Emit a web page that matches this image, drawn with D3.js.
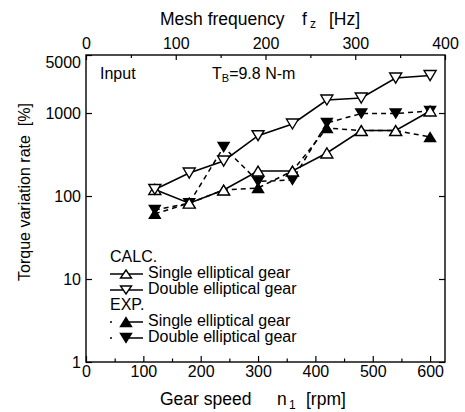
<!DOCTYPE html>
<html>
<head>
<meta charset="utf-8">
<script src="https://cdn.jsdelivr.net/npm/d3@7"></script>
<style>
  body { margin: 0; background: #fff; }
  svg text { font-family: "Liberation Sans", Arial, sans-serif; fill: #000; }
</style>
</head>
<body>
<div id="chart"></div>
<script>
// gear speed n1 [rpm] for each measured point
const speeds = [120, 180, 240, 300, 360, 420, 480, 540, 600];

// torque variation rate [%]
const calcSingle = [120, 82, 118, 200, 200, 330, 615, 615, 1057];
const calcDouble = [120, 189, 264, 533, 737, 1435, 1516, 2640, 2830];
const expSingle = [61, 82, 118, 125, 200, 659, 615, 615, 514];
const expDouble = [68, 82, 389, 150, 156, 758, 986, 986, 1057];

// tick labels
const rpmTicks = d3.range(0, 601, 50);
const hzTicks = d3.range(0, 401, 50);
const rateTicks = [1, 10, 100, 1000, 5000];

const legendRows = [
    { label: "Single elliptical gear", dashed: false, up: true, filled: false },
    { label: "Double elliptical gear", dashed: false, up: false, filled: false },
    { label: "Single elliptical gear", dashed: true, up: true, filled: true },
    { label: "Double elliptical gear", dashed: true, up: false, filled: true }
];

const margin = { top: 55, right: 20, bottom: 50, left: 86 };
const width = 465 - margin.left - margin.right;
const height = 412 - margin.top - margin.bottom;

const svg = d3.select("#chart").append("svg")
    .attr("width", 465)
    .attr("height", 412)
    .append("g")
    .attr("transform", `translate(${margin.left},${margin.top})`);

const x = d3.scaleLinear().domain([0, 626]).range([0, width]);
const xTop = d3.scaleLinear().domain([0, 400]).range([0, width]);
const y = d3.scaleLog().domain([1, 5000]).range([height, 0]);

const line = d3.line()
    .x(d => x(d[0]))
    .y(d => y(d[1]));

// triangle markers, w wide and h tall, centred on the point
function tri(up, w, h) {
    const a = w / 2, b = h / 2;
    return up ? `M0,${-b}L${a},${b}L${-a},${b}Z` : `M0,${b}L${a},${-b}L${-a},${-b}Z`;
}

// axes (ticks point inward)
const gx = svg.append("g")
    .attr("transform", `translate(0,${height})`)
    .call(d3.axisBottom(x).tickValues(rpmTicks).tickSize(-6).tickPadding(4)
        .tickFormat(d => d % 100 === 0 ? d : ""));
gx.selectAll(".tick").filter(d => d % 100 !== 0).select("line").attr("y2", -3.5);

const gxTop = svg.append("g")
    .call(d3.axisTop(xTop).tickValues(hzTicks).tickSize(-5).tickPadding(6)
        .tickFormat(d => d % 100 === 0 ? d : ""));
gxTop.selectAll(".tick").filter(d => d % 100 !== 0).select("line").attr("y2", 3);

const gy = svg.append("g")
    .call(d3.axisLeft(y).tickValues(rateTicks).tickSize(-6).tickPadding(5)
        .tickFormat(d3.format("d")));
gy.selectAll(".tick").filter(d => d === 5000).select("text").attr("transform", "translate(0,7)");

const gyRight = svg.append("g")
    .attr("transform", `translate(${width},0)`)
    .call(d3.axisRight(y).tickValues([1, 10, 100, 1000]).tickSize(-6).tickFormat(""));

[gx, gxTop, gy, gyRight].forEach(g => {
    g.select(".domain").remove();
    g.selectAll("line").attr("stroke", "#000").attr("stroke-width", 1.2);
    g.selectAll("text").style("font-size", "16px").attr("fill", "#000");
});

svg.append("rect")
    .attr("width", width)
    .attr("height", height)
    .attr("fill", "none")
    .attr("stroke", "#000")
    .attr("stroke-width", 1.4);

// series: EXP first so the white CALC markers sit on top
const series = [
    { values: expDouble, dashed: true, up: false, filled: true },
    { values: expSingle, dashed: true, up: true, filled: true },
    { values: calcSingle, dashed: false, up: true, filled: false },
    { values: calcDouble, dashed: false, up: false, filled: false }
];

series.forEach(s => {
    const pts = speeds.map((n, i) => [n, s.values[i]]);
    const g = svg.append("g");
    g.append("path")
        .attr("d", line(pts))
        .attr("fill", "none")
        .attr("stroke", "#000")
        .attr("stroke-width", s.dashed ? 1.5 : 1.6)
        .attr("stroke-dasharray", s.dashed ? "5,4" : null);
    g.selectAll("path.marker")
        .data(pts)
        .enter().append("path")
        .attr("class", "marker")
        .attr("transform", d => `translate(${x(d[0])},${y(d[1])})`)
        .attr("d", s.filled ? tri(s.up, 11, 9) : tri(s.up, 12, 10))
        .attr("fill", s.filled ? "#000" : "#fff")
        .attr("stroke", "#000")
        .attr("stroke-width", 1.4);
});

// in-plot annotations
svg.append("text").attr("x", 100 - margin.left).attr("y", 79 - margin.top)
    .style("font-size", "16px").text("Input");
const tb = svg.append("text").attr("x", 212 - margin.left).attr("y", 79 - margin.top)
    .style("font-size", "16px");
tb.append("tspan").text("T");
tb.append("tspan").attr("dy", 3).style("font-size", "11px").text("B");
tb.append("tspan").attr("dy", -3).text("=9.8 N-m");

// legend
const legend = svg.append("g").attr("transform", `translate(${110 - margin.left},0)`);
legend.append("text").attr("y", 262 - margin.top).style("font-size", "16px").text("CALC.");
legend.append("text").attr("y", 310 - margin.top).style("font-size", "16px").text("EXP.");

const rowBase = [278, 294, 326, 342];
legendRows.forEach((r, i) => {
    const yy = rowBase[i] - margin.top - 4;
    legend.append("line")
        .attr("x1", 0).attr("x2", 33)
        .attr("y1", yy).attr("y2", yy)
        .attr("stroke", "#000")
        .attr("stroke-width", 1.6)
        .attr("stroke-dasharray", r.dashed ? "2,11,20" : null);
    legend.append("path")
        .attr("transform", `translate(16,${yy})`)
        .attr("d", tri(r.up, 11, r.filled ? 9 : 8))
        .attr("fill", r.filled ? "#000" : "#fff")
        .attr("stroke", "#000")
        .attr("stroke-width", 1.4);
    legend.append("text")
        .attr("x", 38)
        .attr("y", rowBase[i] - margin.top)
        .style("font-size", "16px")
        .text(r.label);
});

// axis titles
const root = d3.select("#chart svg");
root.append("text").attr("x", 160).attr("y", 25).style("font-size", "17.5px").text("Mesh frequency");
root.append("text").attr("x", 302).attr("y", 25).style("font-size", "17.5px").text("f");
root.append("text").attr("x", 310).attr("y", 28).style("font-size", "12px").text("z");
root.append("text").attr("x", 329).attr("y", 25).style("font-size", "17.5px").text("[Hz]");

root.append("text").attr("x", 160).attr("y", 405).style("font-size", "17.5px").text("Gear speed");
root.append("text").attr("x", 277).attr("y", 405).style("font-size", "17.5px").text("n");
root.append("text").attr("x", 289).attr("y", 409).style("font-size", "12px").text("1");
root.append("text").attr("x", 306).attr("y", 405).style("font-size", "17.5px").text("[rpm]");

root.append("text")
    .attr("transform", "translate(30,192) rotate(-90)")
    .attr("text-anchor", "middle")
    .style("font-size", "16px")
    .style("white-space", "pre")
    .text("Torque variation rate  [%]");
</script>
</body>
</html>
